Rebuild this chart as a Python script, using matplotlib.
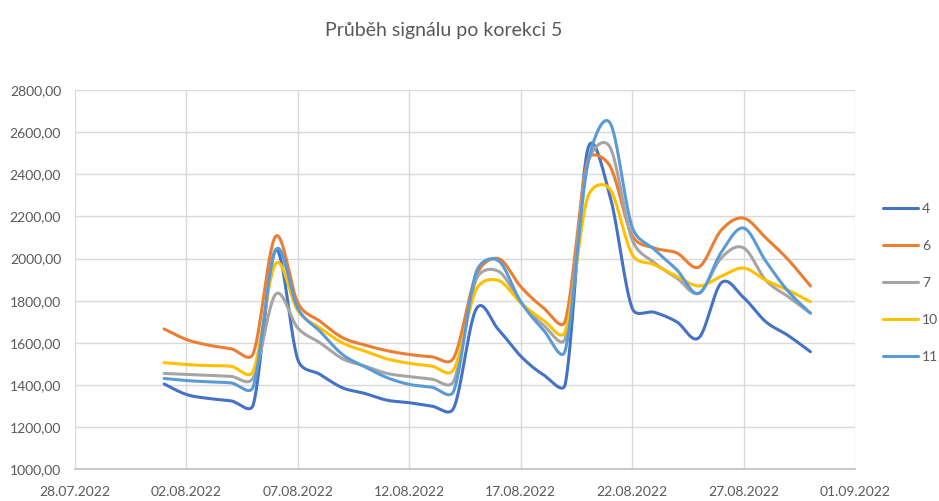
import matplotlib

matplotlib.use('agg')
import matplotlib.pyplot as plt
import matplotlib.dates as mdates
import numpy as np
import pandas as pd

# daily values 01.08.2022 - 30.08.2022
dates = pd.date_range('2022-08-01', '2022-08-30', freq='D')

s4 = [1405, 1355, 1336, 1325, 1307, 2040, 1520, 1450, 1387, 1360, 1328, 1316, 1300, 1292, 1760,
      1663, 1537, 1450, 1405, 2515, 2300, 1765, 1745, 1700, 1625, 1885, 1815, 1700, 1635, 1558]
s6 = [1666, 1616, 1589, 1572, 1550, 2105, 1790, 1702, 1625, 1590, 1563, 1545, 1534, 1530, 1920,
      2000, 1867, 1768, 1705, 2465, 2440, 2110, 2050, 2027, 1960, 2135, 2192, 2098, 1995, 1870]
s7 = [1455, 1450, 1446, 1441, 1435, 1830, 1670, 1600, 1525, 1490, 1455, 1440, 1428, 1420, 1900,
      1940, 1795, 1686, 1623, 2450, 2530, 2090, 1980, 1908, 1836, 2003, 2051, 1897, 1819, 1741]
s10 = [1506, 1497, 1492, 1489, 1467, 1975, 1753, 1670, 1600, 1561, 1524, 1503, 1490, 1475, 1852,
       1896, 1790, 1709, 1655, 2290, 2330, 2020, 1971, 1916, 1870, 1916, 1955, 1897, 1850, 1795]
s11 = [1431, 1421, 1415, 1410, 1393, 2040, 1764, 1654, 1545, 1487, 1435, 1403, 1390, 1373, 1935,
       1990, 1795, 1664, 1565, 2444, 2645, 2150, 2043, 1947, 1835, 2030, 2145, 1987, 1845, 1741]

labels = ['4', '6', '7', '10', '11']
colors = ['#4472C4', '#ED7D31', '#A5A5A5', '#FFC000', '#5B9BD5']
title = 'Průběh signálu po korekci 5'
text_color = '#595959'

PX_DAY = 780 / 35      # pixels per day on the x axis
PX_UNIT = 379.3 / 1800  # pixels per unit on the y axis


def smooth(x, y, n=30):
	# excel-like smoothed line: bezier segments, arms limited to half the segment
	p = np.column_stack([np.asarray(x, float) * PX_DAY, np.asarray(y, float) * PX_UNIT])
	p = np.vstack([p[:1], p, p[-1:]])
	t = np.linspace(0, 1, n)[:, None]
	out = []
	for i in range(1, len(p) - 2):
		p0, p3 = p[i], p[i + 1]
		lim = np.hypot(*(p3 - p0)) / 2
		a1 = (p[i + 1] - p[i - 1]) / 6
		a2 = (p[i + 2] - p[i]) / 6
		for a in (a1, a2):
			ln = np.hypot(*a)
			if ln > lim:
				a *= lim / ln
		c1 = p0 + a1
		c2 = p3 - a2
		seg = (1 - t) ** 3 * p0 + 3 * (1 - t) ** 2 * t * c1 + 3 * (1 - t) * t ** 2 * c2 + t ** 3 * p3
		out.append(seg if i == 1 else seg[1:])
	pts = np.vstack(out)
	return pts[:, 0] / PX_DAY, pts[:, 1] / PX_UNIT


plt.rcParams['font.family'] = ['Lato', 'DejaVu Sans']

fig = plt.figure(figsize=(9.39, 5.01), dpi=100)
ax = fig.add_axes([75 / 939, 1 - 469.3 / 501, 780 / 939, 379.3 / 501])

xnum = mdates.date2num(dates)
for vals, lab, col in zip([s4, s6, s7, s10, s11], labels, colors):
	sx, sy = smooth(xnum, vals)
	ax.plot(sx, sy, color=col, lw=2.2, label=lab, solid_capstyle='round')

x0 = mdates.date2num(pd.Timestamp('2022-07-28'))
x1 = mdates.date2num(pd.Timestamp('2022-09-01'))
ax.set_xlim(x0, x1)
ax.set_xticks(np.arange(x0, x1 + 1, 5))
ax.xaxis.set_major_formatter(mdates.DateFormatter('%d.%m.%Y'))
ax.set_ylim(1000, 2800)
ax.set_yticks(np.arange(1000, 2801, 200))
ax.set_yticklabels([f'{v:.2f}'.replace('.', ',') for v in np.arange(1000, 2801, 200)])

ax.grid(True, color='#d9d9d9', lw=1)
ax.set_axisbelow(True)
for side in ['left', 'top', 'right']:
	ax.spines[side].set_visible(False)
ax.spines['bottom'].set_color('#bfbfbf')
ax.spines['bottom'].set_linewidth(1.2)
ax.tick_params(length=0, labelsize=10, colors=text_color, pad=12)
ax.tick_params(axis='y', pad=10)

fig.text(0.473, 0.94, title, ha='center', va='center', fontsize=14, color=text_color)

fig.legend(loc='upper left', bbox_to_anchor=(883 / 939, 1 - 203 / 501), frameon=False,
		   handlelength=2.5, handletextpad=0.3, labelspacing=1.8, borderpad=0, borderaxespad=0,
		   fontsize=10, labelcolor=text_color)

fig.savefig('out.png', dpi=100)
